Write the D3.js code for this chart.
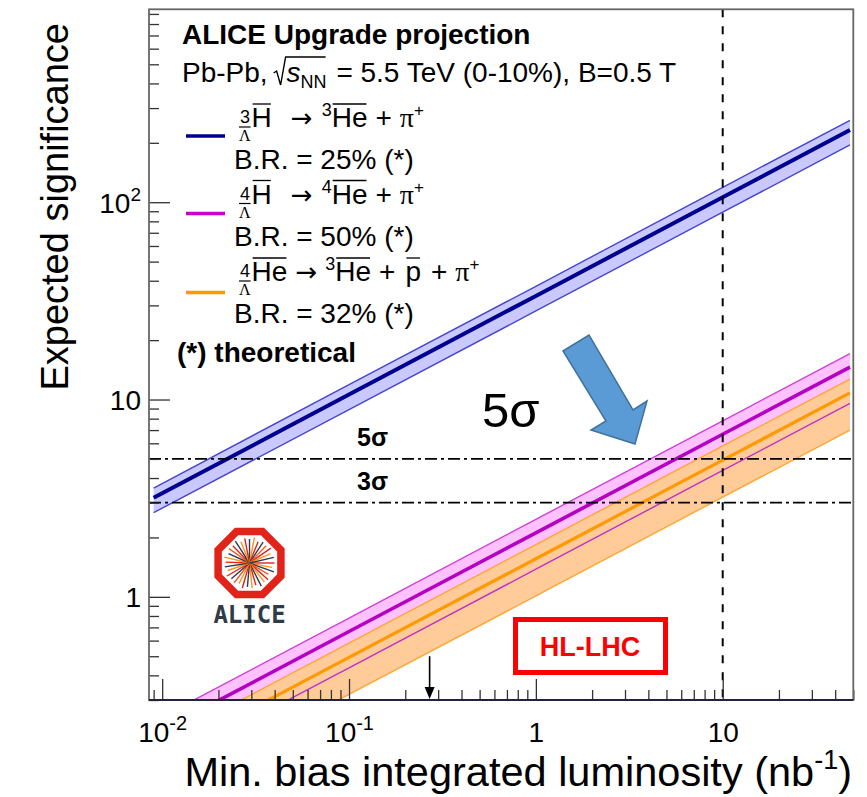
<!DOCTYPE html>
<html><head><meta charset="utf-8">
<script src="https://cdn.jsdelivr.net/npm/d3@7"></script>
<style>
body{margin:0;background:#fff}
svg{display:block}
text{font-family:"Liberation Sans",Arial,Helvetica,sans-serif;fill:#000}
</style>
</head><body>
<svg id="chart" width="867" height="797"></svg>
<script>
// ---- data -------------------------------------------------------------
// integrated luminosity (nb^-1) at which the projections are sampled
const lumi = [0.009, 0.1, 1, 10, 48];

// anti-hypertriton  -> 3He + pi+   (B.R. 25%)
const h3Center = [3.18, 10.6, 33.5, 106, 232];
const h3Upper  = [3.56, 11.9, 37.5, 119, 260];
const h3Lower  = [2.67, 8.9, 28.1, 89, 195];

// anti-hyperhydrogen-4 -> 4He + pi+   (B.R. 50%)
const h4Center = [0.200, 0.667, 2.11, 6.67, 14.6];
const h4Upper  = [0.234, 0.78, 2.47, 7.8, 17.1];
const h4Lower  = [0.131, 0.437, 1.38, 4.37, 9.57];

// anti-hyperhelium-4 -> 3He + pbar + pi+   (B.R. 32%)
const he4Center = [0.148, 0.493, 1.56, 4.93, 10.8];
const he4Upper  = [0.175, 0.582, 1.84, 5.82, 12.7];
const he4Lower  = [0.096, 0.32, 1.01, 3.2, 7.0];

const xMajorTicks = [0.01, 0.1, 1, 10];
const xTickBase   = ["10", "10", "1", "10"];
const xTickExp    = ["-2", "-1", "", ""];
const yMajorTicks = [1, 10, 100];
const yTickBase   = ["1", "10", "10"];
const yTickExp    = ["", "", "2"];

const sigmaLevels = [5, 3];
const sigmaLabels = ["5σ", "3σ"];
const hlLhcLumi = 10;          // vertical dashed line
const runLumi = 0.27;          // small black arrow
const runArrowFrom = 0.5;

// ALICE logo rays: [angle deg, length px, colour]
const rays = [
  [0,25,"#e2231a"],[11,23,"#f7941d"],[20,26,"#2e3b4e"],[31,22,"#f15a24"],[42,25,"#e2231a"],
  [52,24,"#f7941d"],[63,26,"#2e3b4e"],[74,23,"#e2231a"],[84,25,"#f7941d"],[95,24,"#2e3b4e"],
  [106,26,"#e2231a"],[117,23,"#f7941d"],[128,25,"#f15a24"],[139,24,"#2e3b4e"],[150,26,"#e2231a"],
  [161,23,"#f7941d"],[171,25,"#2e3b4e"],[182,24,"#e2231a"],[193,26,"#f7941d"],[204,23,"#2e3b4e"],
  [215,25,"#f15a24"],[226,24,"#e2231a"],[237,26,"#2e3b4e"],[248,23,"#f7941d"],[259,25,"#e2231a"],
  [270,24,"#2e3b4e"],[281,26,"#f7941d"],[292,23,"#e2231a"],[303,25,"#2e3b4e"],[314,24,"#f15a24"],
  [325,26,"#e2231a"],[336,23,"#f7941d"],[347,25,"#2e3b4e"]
];

// ---- layout -----------------------------------------------------------
const svg = d3.select("#chart");
const L = 149, R = 853.3, T = 9.3, B = 700;

const x = d3.scaleLog().domain([0.0085, 50]).range([L, R]);
const y = d3.scaleLog().domain([0.3, 950]).range([B, T]);

svg.append("defs").append("clipPath").attr("id", "plotClip")
  .append("rect").attr("x", L).attr("y", T).attr("width", R - L).attr("height", B - T);

const plot = svg.append("g").attr("clip-path", "url(#plotClip)");

const pts = vals => lumi.map((l, i) => [l, vals[i]]);
const band = (up, lo) => d3.area().x((d, i) => x(lumi[i])).y0((d, i) => y(lo[i])).y1((d, i) => y(up[i]))(lumi);
const line = d3.line().x(d => x(d[0])).y(d => y(d[1]));

// bands
plot.append("path").attr("d", band(h3Upper, h3Lower)).attr("fill", "#c9c9ff");
plot.append("path").attr("d", band(h4Upper, h4Lower)).attr("fill", "#ffc2ff");
plot.append("path").attr("d", band(he4Upper, he4Lower)).attr("fill", "#ffcc99");

// band edges
[[h3Upper, "#4545d0"], [h3Lower, "#4545d0"],
 [he4Upper, "#ffa533"], [he4Lower, "#ffa533"],
 [h4Upper, "#d040d8"], [h4Lower, "#c030c8"]].forEach(([v, c]) =>
  plot.append("path").attr("d", line(pts(v))).attr("fill", "none").attr("stroke", c).attr("stroke-width", 1.4));

// central values
plot.append("path").attr("d", line(pts(he4Center))).attr("fill", "none").attr("stroke", "#ff9900").attr("stroke-width", 3.2);
plot.append("path").attr("d", line(pts(h4Center))).attr("fill", "none").attr("stroke", "#b400c0").attr("stroke-width", 3.6);
plot.append("path").attr("d", line(pts(h3Center))).attr("fill", "none").attr("stroke", "#000090").attr("stroke-width", 4);

// significance thresholds
sigmaLevels.forEach(s => {
  plot.append("line").attr("x1", L).attr("x2", R).attr("y1", y(s)).attr("y2", y(s))
    .attr("stroke", "#000").attr("stroke-width", 1.8).attr("stroke-dasharray", "12,4,3,4");
});
// luminosity line
plot.append("line").attr("x1", x(hlLhcLumi)).attr("x2", x(hlLhcLumi)).attr("y1", T).attr("y2", B)
  .attr("stroke", "#000").attr("stroke-width", 2).attr("stroke-dasharray", "8,9");

// ---- axes ---------------------------------------------------------------
function minorTicks(lo, hi) {
  const out = [];
  for (let e = Math.floor(Math.log10(lo)); e <= Math.ceil(Math.log10(hi)); e++)
    for (let m = 2; m <= 9; m++) { const v = m * Math.pow(10, e); if (v >= lo && v <= hi) out.push(v); }
  return out;
}

const yMinor = svg.append("g").attr("transform", `translate(${L},0)`)
  .call(d3.axisLeft(y).tickValues(minorTicks(0.3, 950)).tickSizeInner(-10).tickSizeOuter(0).tickFormat(""));
const yMajor = svg.append("g").attr("transform", `translate(${L},0)`)
  .call(d3.axisLeft(y).tickValues(yMajorTicks).tickSizeInner(-21).tickSizeOuter(0).tickPadding(8).tickFormat(""));
const xMinor = svg.append("g").attr("transform", `translate(0,${B})`)
  .call(d3.axisBottom(x).tickValues(minorTicks(0.0085, 50)).tickSizeInner(-10).tickSizeOuter(0).tickFormat(""));
const xMajor = svg.append("g").attr("transform", `translate(0,${B})`)
  .call(d3.axisBottom(x).tickValues(xMajorTicks).tickSizeInner(-21).tickSizeOuter(0).tickFormat(""));

[yMinor, yMajor, xMinor, xMajor].forEach(g => {
  g.select(".domain").remove();
  g.selectAll(".tick line").attr("stroke", "#333").attr("stroke-width", 1.3);
});

// y tick labels
yMajor.selectAll(".tick").each(function (d, i) {
  const t = d3.select(this).select("text").attr("x", -8).attr("dy", null).attr("y", 10)
    .attr("text-anchor", "end").attr("font-size", null).attr("font-family", null).attr("fill", null)
    .style("font-size", "28px");
  t.text(yTickBase[i]);
  if (yTickExp[i]) t.append("tspan").attr("dy", -12).style("font-size", "19px").text(yTickExp[i]);
});
// x tick labels
xMajor.selectAll(".tick").each(function (d, i) {
  const t = d3.select(this).select("text").attr("y", 42).attr("dy", null)
    .attr("text-anchor", "middle").attr("font-size", null).attr("font-family", null).attr("fill", null)
    .style("font-size", "28px");
  t.text(xTickBase[i]);
  if (xTickExp[i]) t.append("tspan").attr("dy", -12).style("font-size", "20px").text(xTickExp[i]);
});

// frame
svg.append("rect").attr("x", L).attr("y", T).attr("width", R - L).attr("height", B - T)
  .attr("fill", "none").attr("stroke", "#666").attr("stroke-width", 1.8);
svg.append("line").attr("x1", L).attr("x2", R).attr("y1", B).attr("y2", B)
  .attr("stroke", "#22223a").attr("stroke-width", 2);

// axis titles
svg.append("text").attr("transform", "translate(68,23) rotate(-90)").attr("text-anchor", "end")
  .style("font-size", "38px").text("Expected significance");
const xt = svg.append("text").attr("x", 852).attr("y", 786).attr("text-anchor", "end")
  .style("font-size", "41.5px").text("Min. bias integrated luminosity (nb");
xt.append("tspan").attr("dy", -17).style("font-size", "27px").text("-1");
xt.append("tspan").attr("dy", 17).text(")");

// threshold labels
sigmaLevels.forEach((s, i) => {
  svg.append("text").attr("x", 357).attr("y", y(s) - 13).style("font-size", "25px").style("font-weight", "bold")
    .text(sigmaLabels[i]);
});

// run arrow
const ax = x(runLumi);
svg.append("line").attr("x1", ax).attr("x2", ax).attr("y1", y(runArrowFrom)).attr("y2", B - 10)
  .attr("stroke", "#000").attr("stroke-width", 1.6);
svg.append("path").attr("d", `M${ax - 5},${B - 13} L${ax + 5},${B - 13} L${ax},${B - 1} Z`).attr("fill", "#000");

// ---- legend ---------------------------------------------------------
const FS = 28;
const leg = svg.append("g");
leg.append("text").attr("x", 182).attr("y", 44).style("font-size", FS + "px").style("font-weight", "bold")
  .text("ALICE Upgrade projection");

// Pb-Pb line with square root
(function () {
  const b = 82;
  const t1 = leg.append("text").attr("x", 182).attr("y", b).style("font-size", FS + "px").text("Pb-Pb,");
  let cx = 182 + t1.node().getComputedTextLength() + 6;
  const sqX = cx;
  leg.append("path").attr("d", `M${sqX},${b - 9} L${sqX + 3},${b - 11} L${sqX + 7},${b + 3} L${sqX + 12},${b - 25} L${sqX + 52},${b - 25}`)
    .attr("fill", "none").attr("stroke", "#000").attr("stroke-width", 1.4);
  cx = sqX + 13;
  const s = leg.append("text").attr("x", cx).attr("y", b).style("font-size", FS + "px").style("font-style", "italic").text("s");
  cx += s.node().getComputedTextLength();
  const nn = leg.append("text").attr("x", cx).attr("y", b + 6).style("font-size", "18px").text("NN");
  cx += nn.node().getComputedTextLength() + 2;
  leg.append("text").attr("x", cx).attr("y", b).style("font-size", FS + "px").style("white-space", "pre")
    .text(" = 5.5 TeV (0-10%), B=0.5 T");
})();

function formula(x0, b, parts) {
  let cx = x0;
  parts.forEach(p => {
    if (p.gap) { cx += p.gap; return; }
    if (p.stack) {
      const a = leg.append("text").attr("x", cx + 1).attr("y", b - 4).style("font-size", "18px").text(p.stack[0]);
      const c = leg.append("text").attr("x", cx).attr("y", b + 14).style("font-size", "16px")
        .style("font-family", "'Liberation Serif',serif").text(p.stack[1]);
      const w = Math.max(a.node().getComputedTextLength(), c.node().getComputedTextLength());
      leg.append("line").attr("x1", cx).attr("x2", cx + w).attr("y1", b).attr("y2", b).attr("stroke", "#000").attr("stroke-width", 1.2);
      cx += w + 1;
      return;
    }
    const t = leg.append("text").attr("x", cx).attr("y", b + (p.dy || 0)).style("font-size", (p.size || FS) + "px").text(p.t);
    if (p.serif) t.style("font-family", "'Liberation Serif',serif");
    if (p.arrow) t.style("font-family", "'DejaVu Sans',sans-serif").style("font-size", "26px");
    const w = t.node().getComputedTextLength();
    if (p.bar) leg.append("line").attr("x1", cx + 1).attr("x2", cx + w - 1).attr("y1", b + p.bar).attr("y2", b + p.bar)
      .attr("stroke", "#000").attr("stroke-width", 1.3);
    cx += w;
  });
}

const legRows = [
  { color: "#000090", lineY: 136, base: 127, br: "B.R. = 25% (*)",
    parts: [{ stack: ["3", "Λ"] }, { t: "H", bar: -23 }, { gap: 19 }, { t: "→", arrow: true }, { gap: 9 }, { t: "3", size: 18, dy: -11 },
            { t: "He", bar: -23 }, { gap: 8 }, { t: "+" }, { gap: 8 }, { t: "π", serif: true }, { t: "+", size: 17, dy: -11 }] },
  { color: "#cc00cc", lineY: 213.5, base: 203.5, br: "B.R. = 50% (*)",
    parts: [{ stack: ["4", "Λ"] }, { t: "H", bar: -23 }, { gap: 19 }, { t: "→", arrow: true }, { gap: 9 }, { t: "4", size: 18, dy: -11 },
            { t: "He", bar: -23 }, { gap: 8 }, { t: "+" }, { gap: 8 }, { t: "π", serif: true }, { t: "+", size: 17, dy: -11 }] },
  { color: "#ff9900", lineY: 292.5, base: 281, br: "B.R. = 32% (*)",
    parts: [{ stack: ["4", "Λ"] }, { t: "He", bar: -23 }, { gap: 8 }, { t: "→", arrow: true }, { gap: 8 }, { t: "3", size: 18, dy: -11 },
            { t: "He", bar: -23 }, { gap: 8 }, { t: "+" }, { gap: 10 }, { t: "p", bar: -23 }, { gap: 10 }, { t: "+" }, { gap: 8 },
            { t: "π", serif: true }, { t: "+", size: 17, dy: -11 }] }
];
legRows.forEach(r => {
  leg.append("line").attr("x1", 186).attr("x2", 225).attr("y1", r.lineY).attr("y2", r.lineY)
    .attr("stroke", r.color).attr("stroke-width", 3.5);
  formula(239, r.base, r.parts);
  leg.append("text").attr("x", 234).attr("y", r.base + 42).style("font-size", FS + "px").text(r.br);
});
leg.append("text").attr("x", 177).attr("y", 362).style("font-size", FS + "px").style("font-weight", "bold")
  .text("(*) theoretical");

// ---- annotations ------------------------------------------------------
svg.append("text").attr("x", 482).attr("y", 427).style("font-size", "49px").text("5σ");
svg.append("path")
  .attr("d", "M563,351 L589,335 L633,410 L647,401 L635,444 L591,430 L606,421 Z")
  .attr("fill", "#5b9bd5").attr("stroke", "#41719c").attr("stroke-width", 1.5).attr("stroke-linejoin", "miter");

svg.append("rect").attr("x", 515.5).attr("y", 619.5).attr("width", 150).attr("height", 53)
  .attr("fill", "none").attr("stroke", "#ff0000").attr("stroke-width", 5);
svg.append("text").attr("x", 590).attr("y", 656).attr("text-anchor", "middle")
  .style("font-size", "27px").style("font-weight", "bold").style("fill", "#ff0000").text("HL-LHC");

// ALICE logo
(function () {
  const cx = 249.5, cy = 563, Rr = 34;
  const g = svg.append("g");
  rays.forEach(([a, len, c]) => {
    const r = a * Math.PI / 180;
    g.append("line").attr("x1", cx).attr("y1", cy).attr("x2", cx + len * Math.cos(r)).attr("y2", cy + len * Math.sin(r))
      .attr("stroke", c).attr("stroke-width", 1.4);
  });
  const oct = d3.range(8).map(k => {
    const r = (22.5 + 45 * k) * Math.PI / 180;
    return [cx + Rr * Math.cos(r), cy + Rr * Math.sin(r)];
  });
  g.append("path").attr("d", "M" + oct.join("L") + "Z").attr("fill", "none")
    .attr("stroke", "#e2231a").attr("stroke-width", 7.5).attr("stroke-linejoin", "miter");
  g.append("text").attr("x", cx).attr("y", 623).attr("text-anchor", "middle")
    .style("font-family", "'DejaVu Sans Mono',monospace").style("font-size", "24px").style("font-weight", "bold")
    .style("fill", "#2f3b46").text("ALICE");
})();
</script>
</body></html>
